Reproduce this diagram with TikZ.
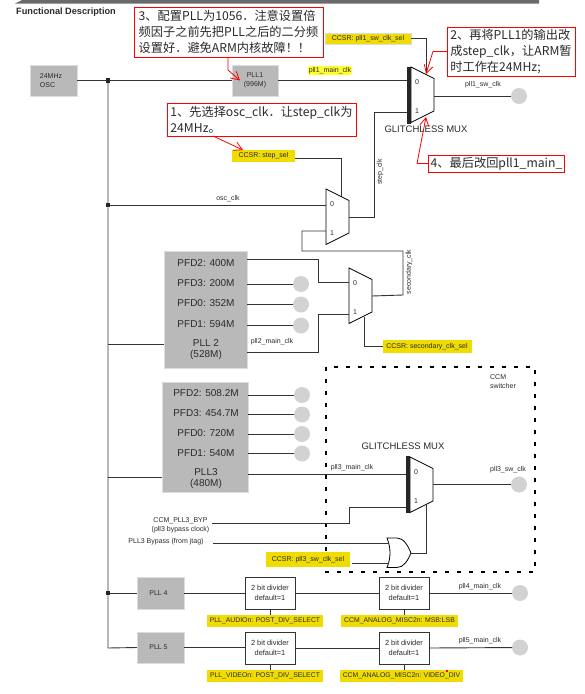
\documentclass[tikz,border=0pt]{standalone}
\usepackage{fontspec}
\setmainfont{Liberation Sans}
\newfontfamily\cjkfont{Noto Sans CJK SC}
\usetikzlibrary{arrows.meta,positioning,calc}
\definecolor{Band}{HTML}{6A6A6A}
\definecolor{Ink}{HTML}{2A2A2A}
\definecolor{Wire}{HTML}{333333}
\definecolor{BoxGray}{HTML}{B9B9B9}
\definecolor{BoxEdge}{HTML}{DDDDDD}
\definecolor{PadGray}{HTML}{D2D2D2}
\definecolor{SelYellow}{HTML}{F0DC00}
\definecolor{HiYellow}{HTML}{FFFF30}
\tikzset{
  pllbox/.style={draw=BoxEdge,fill=BoxGray,line width=1pt,outer sep=0pt,align=center,text=Ink},
  divbox/.style={draw=Wire,fill=white,line width=1pt,outer sep=0pt,minimum width=50pt,minimum height=32pt,align=center,font=\fontsize{7.4}{9.5}\selectfont,text=Ink},
  selbox/.style={fill=SelYellow,outer sep=0pt,inner sep=0pt,align=center,font=\fontsize{7}{8}\selectfont,text=Ink},
  tag/.style={inner sep=0pt,outer sep=0pt,align=center,font=\fontsize{7}{9}\selectfont,text=Ink},
  pfd/.style={inner sep=0pt,font=\fontsize{10}{11}\selectfont,text=Ink},
  pad/.style={circle,fill=PadGray,minimum size=16pt,inner sep=0pt,outer sep=0pt},
  dotjoin/.style={fill=black!85,minimum size=4.5pt,inner sep=0pt,outer sep=0pt},
  wire/.style={draw=Wire,line width=0.9pt},
  muxline/.style={draw=black,line width=0.8pt,fill=white},
  callout/.style={draw=red,fill=white,line width=0.9pt,inner sep=2pt,outer sep=0pt,align=left,text=Ink,font=\cjkfont\fontsize{12.2}{16}\selectfont},
  redarrow/.style={draw=red,line width=0.8pt,-{Straight Barb[length=8pt,width=9pt]}}
}
% mux drawn from its top left corner
\newcommand{\muxblock}[3]{
  \draw[muxline] (#2,#3) -- ++(23,11.5) -- ++(0,32.5) -- ++(-23,11.5) -- cycle;
  \coordinate (#1in0) at (#2,#3+14);
  \coordinate (#1in1) at (#2,#3+43);
  \coordinate (#1out) at (#2+23,#3+28);
  \node[tag] at (#2+6,#3+15) {0};
  \node[tag] at (#2+6,#3+44) {1};
}
\begin{document}
\begin{tikzpicture}[x=1pt,y=-1pt]
  \useasboundingbox (0,0) rectangle (585,694);
  \fill[Band] (22,0) -- (539,0) -- (539,3.5) -- (15,3.5) -- cycle;
  \node[inner sep=0pt,font=\fontsize{9.2}{10}\selectfont\bfseries,text=Ink] (title) at (66,12) {Functional Description};

  % source and main plls
  \node[pllbox,minimum width=47pt,minimum height=31pt] (osc) at (53.5,80.5) {};
  \node[tag,align=left] (osclabel) at (51,80.5) {24MHz\\OSC};
  \node[pllbox,minimum width=46pt,minimum height=31pt,font=\fontsize{7}{9}\selectfont] (pll1) at (255,80.5) {PLL1\\(996M)};
  \node[dotjoin] (j1) at (108,80.5) {};
  \node[dotjoin] (j2) at (108,205) {};
  \node[dotjoin] (j3) at (108,593) {};
  \coordinate (jend) at (108,648);

  % big plls
  \node[pllbox,minimum width=83pt,minimum height=117pt] (pll2) at (205.5,309.5) {};
  \node[pfd] (p2a) at (206,263) {PFD2: 400M};
  \node[pfd] (p2b) at (206,283) {PFD3: 200M};
  \node[pfd] (p2c) at (206,303.5) {PFD0: 352M};
  \node[pfd] (p2d) at (206,324) {PFD1: 594M};
  \node[pfd,align=center] (p2e) at (206,349.5) {PLL 2\\(528M)};
  \node[pad] (o2b) at (301,284) {};
  \node[pad] (o2c) at (301,304.5) {};
  \node[pad] (o2d) at (301,325.5) {};

  \node[pllbox,minimum width=86pt,minimum height=110pt] (pll3) at (205,437) {};
  \node[pfd] (p3a) at (206,393) {PFD2: 508.2M};
  \node[pfd] (p3b) at (206,413) {PFD3: 454.7M};
  \node[pfd] (p3c) at (206,433) {PFD0: 720M};
  \node[pfd] (p3d) at (206,453.5) {PFD1: 540M};
  \node[pfd,align=center] (p3e) at (206,479) {PLL3\\(480M)};
  \node[pad] (o3a) at (302,395) {};
  \node[pad] (o3b) at (302,414.5) {};
  \node[pad] (o3c) at (302,434) {};
  \node[pad] (o3d) at (302,453.5) {};

  \node[pllbox,minimum width=47pt,minimum height=32pt,font=\fontsize{7}{9}\selectfont] (pll4) at (160.5,593) {PLL 4\hspace{4pt}};
  \node[pllbox,minimum width=47pt,minimum height=31pt,font=\fontsize{7}{9}\selectfont] (pll5) at (160.5,647.5) {PLL 5\hspace{4pt}};

  % ccm switcher frame
  \draw[black,line width=2pt,dash pattern=on 4pt off 8pt] (326,367) rectangle (535,572);
  \node[tag,align=left] (ccmsw) at (503,381.5) {CCM\\switcher};

  % muxes
  \draw[wire] (j1) -- (pll1.west);
  \draw[wire] (osc.east) -- (j1);
  \draw[wire] (j1) -- (j2) -- (j3) -- (jend) -- (pll5.west);
  \draw[wire] (j3) -- (pll4.west);
  \draw[wire] (pll2.west |- p2e) ++(0,-5.5) -- (108,344);
  \draw[wire] (pll3.west |- p3e) ++(0,-2) -- (108,477);

  \node[selbox,draw=BoxEdge,minimum width=86pt,minimum height=11pt] (ccsrsw) at (368,38.5) {CCSR: pll1\_sw\_clk\_sel};
  \node[selbox,minimum width=63pt,minimum height=12pt] (ccsrstep) at (263.5,156) {CCSR: step\_sel};
  \node[selbox,minimum width=89pt,minimum height=13pt] (ccsrsec) at (427,346.5) {CCSR: secondary\_clk\_sel};
  \node[selbox,minimum width=84pt,minimum height=15pt] (ccsrp3) at (308,559.5) {CCSR: pll3\_sw\_clk\_sel};

  \draw[wire] (ccsrsw.east) -| (426.5,73);
  \draw[wire] (ccsrstep.east |- 0,158) -| (341,197);
  \draw[wire] (364,317) |- (ccsrsec.west);
  \muxblock{muxa}{411}{67}
  \muxblock{muxb}{326}{189}
  \muxblock{muxc}{349}{268}
  \muxblock{muxd}{410}{457}
  \fill[black!85] (407,67) rectangle (411,123.5);
  \fill[black!85] (406,456) rectangle (410,513);

  % top mux
  \node[pad] (swpad) at (519,96) {};
  \draw[wire] (muxaout) ++(0,1) -- (swpad);
  \node[tag] (swtag) at (483,85) {pll1\_sw\_clk};
  \draw[wire] (pll1.east) -- (407,80.5);
  \node[tag,fill=HiYellow,rounded corners=2pt,inner xsep=1pt,inner ysep=1pt] (maintag) at (330,70.5) {pll1\_main\_clk};
  \draw[wire] (muxbout) -- (374,217) -- (374,112) -- (407,112);
  \node[tag,rotate=90] (steptag) at (380,172) {step\_clk};
  \node[inner sep=0pt,font=\fontsize{9.5}{10}\selectfont,text=Ink] (glitcha) at (426,129) {GLITCHLESS MUX};

  % step mux and secondary mux
  \draw[wire] (j2) -- (muxbin0 |- j2);
  \node[tag] (osctag) at (228,199) {osc\_clk};
  \draw[wire] (326,231) -- (302,231) -- (302,251) -- (403,251) -- (403,295) -- (muxcout);
  \node[tag,rotate=90] (sectag) at (409,272) {secondary\_clk};
  \draw[wire] (pll2.east |- 0,259) -- (318,259) -- (318,282) -- (muxcin0);
  \draw[wire] (pll2.east |- o2b) -- (o2b);
  \draw[wire] (pll2.east |- o2c) -- (o2c);
  \draw[wire] (pll2.east |- o2d) -- (o2d);
  \draw[wire] (pll2.east |- 0,352) -- (318,352) -- (318,314) -- (349,314);
  \node[tag] (p2tag) at (272,342) {pll2\_main\_clk};

  % pll3 side
  \draw[wire] (pll3.east |- o3a) -- (o3a);
  \draw[wire] (pll3.east |- o3b) -- (o3b);
  \draw[wire] (pll3.east |- o3c) -- (o3c);
  \draw[wire] (pll3.east |- o3d) -- (o3d);
  \draw[wire] (pll3.east |- 0,474) -- (406,474);
  \node[tag] (p3tag) at (352,468) {pll3\_main\_clk};
  \node[inner sep=0pt,font=\fontsize{9.5}{10}\selectfont,text=Ink] (glitchb) at (403,446) {GLITCHLESS MUX};
  \node[pad] (p3pad) at (519,484.5) {};
  \draw[wire] (muxdout) ++(0,-0.5) -- (p3pad);
  \node[tag] (p3swtag) at (508,470) {pll3\_sw\_clk};
  \node[tag] (byptag) at (180.5,525.5) {CCM\_PLL3\_BYP\\(pll3 bypass clock)};
  \node[tag] (jtagtag) at (166,542) {PLL3 Bypass (from jtag)};
  \draw[wire] (212,523) -- (349,523) -- (349,507) -- (406,507);

  % or gate
  \draw[line width=0.8pt,fill=white] (387,538) -- (397,538) .. controls (404,538) and (408,546) .. (411,553) .. controls (408,560) and (404,567.5) .. (397,567.5) -- (387,567.5) .. controls (391,558) and (391,548) .. (387,538) -- cycle;
  \coordinate (orout) at (411,553);
  \draw[wire] (213,543) -- (388.5,543);
  \draw[wire] (352,563) -- (388.5,563);
  \draw[wire] (orout) -- (426,553) -- (426,505);

  % dividers
  \node[divbox] (d4a) at (270,593) {2 bit divider\\default=1};
  \node[divbox] (d4b) at (404,593) {2 bit divider\\default=1};
  \node[divbox] (d5a) at (270,648) {2 bit divider\\default=1};
  \node[divbox] (d5b) at (404,648) {2 bit divider\\default=1};
  \node[pad] (p4pad) at (520,593) {};
  \node[pad] (p5pad) at (520,647.5) {};
  \draw[wire] (pll4.east) -- (d4a.west |- pll4.east);
  \draw[wire] (d4a.east) -- (d4b.west);
  \draw[wire] (d4b.east) -- (p4pad);
  \draw[wire] (pll5.east) -- (d5a.west |- pll5.east);
  \draw[wire] (d5a.east) -- (d5b.west);
  \draw[wire] (d5b.east) -- (p5pad);
  \node[tag] (p4tag) at (480,587) {pll4\_main\_clk};
  \node[tag] (p5tag) at (480,641) {pll5\_main\_clk};
  \node[selbox,minimum width=116pt,minimum height=12pt,font=\fontsize{6.85}{8}\selectfont] (sel4a) at (265,621) {PLL\_AUDIOn: POST\_DIV\_SELECT};
  \node[selbox,minimum width=117pt,minimum height=12pt,font=\fontsize{6.85}{8}\selectfont] (sel4b) at (399.5,621) {CCM\_ANALOG\_MISC2n: MSB:LSB};
  \node[selbox,minimum width=116pt,minimum height=12pt,font=\fontsize{6.85}{8}\selectfont] (sel5a) at (265,676) {PLL\_VIDEOn: POST\_DIV\_SELECT};
  \node[selbox,minimum width=123pt,minimum height=12pt,font=\fontsize{6.85}{8}\selectfont] (sel5b) at (401.5,675.5) {CCM\_ANALOG\_MISC2n: VIDEO\_DIV};
  \fill[red] (446,670) rectangle (448,672);
  \draw[wire] (d4a.south) -- (sel4a.north -| d4a.south);
  \draw[wire] (d4b.south) -- (sel4b.north -| d4b.south);
  \draw[wire] (d5a.south) -- (sel5a.north -| d5a.south);
  \draw[wire] (d5b.south) -- (sel5b.north -| d5b.south);

  % red notes
  \node[callout,minimum width=189pt,minimum height=50pt] (note3) at (228.5,32) {3、配置PLL为1056．注意设置倍\\频因子之前先把PLL之后的二分频\\设置好．避免ARM内核故障！！};
  \node[callout,minimum width=189pt,minimum height=33pt] (note1) at (261.5,119.5) {1、先选择osc\_clk．让step\_clk为\\24MHz。};
  \node[callout,minimum width=128pt,minimum height=49pt] (note2) at (511,51.5) {2、再将PLL1的输出改\\成step\_clk，让ARM暂\\时工作在24MHz;};
  \node[callout,minimum width=133pt,minimum height=17pt] (note4) at (496.5,163.5) {4、最后改回pll1\_main\_};
  \coordinate (bend3) at (228,70);
  \coordinate (bend2) at (433,51.5);
  \coordinate (bend4) at (417,163.5);
  \coordinate (tip1) at (243,150);
  \coordinate (tip2) at (426,74);
  \coordinate (tip3) at (240,80.5);
  \coordinate (tip4) at (426,117);
  \draw[redarrow] (note3.south -| bend3) -- (bend3) -- (tip3);
  \draw[redarrow] (note1.south -| 213,0) -- (tip1);
  \draw[redarrow] (note2.west) -- (bend2) -- (tip2);
  \draw[redarrow] (note4.west) -- (bend4) -- (tip4);
\end{tikzpicture}
\end{document}
